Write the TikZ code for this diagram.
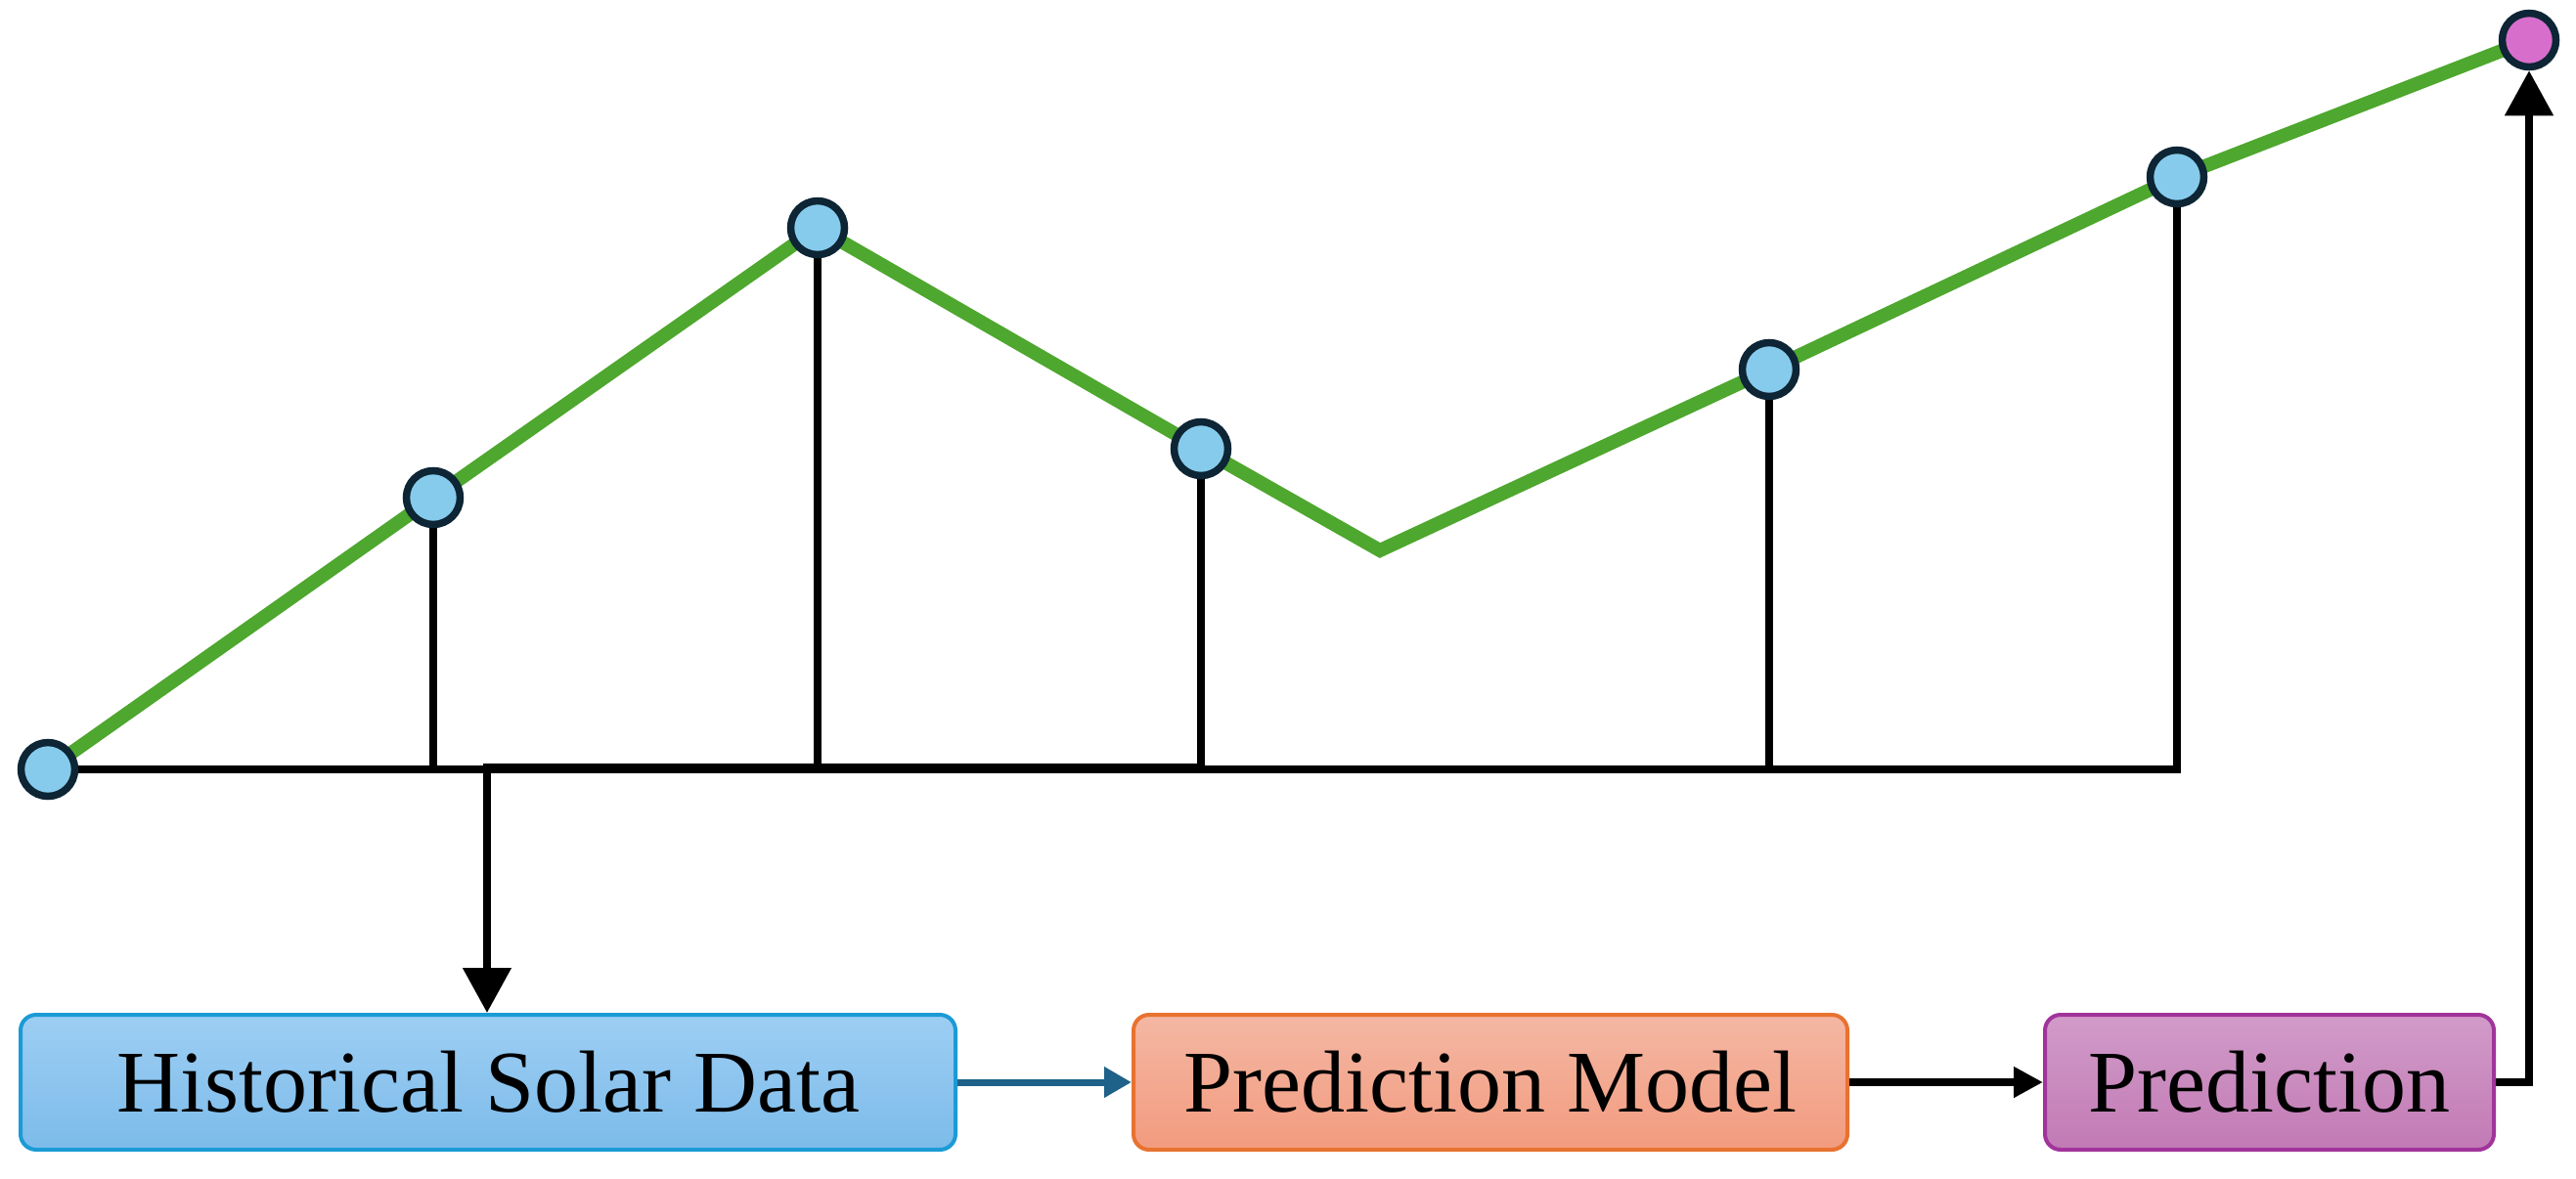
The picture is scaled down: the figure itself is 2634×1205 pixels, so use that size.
\documentclass[tikz,border=0pt]{standalone}
\usepackage{fontspec}
\setmainfont{Liberation Serif}
\usetikzlibrary{arrows.meta,backgrounds}
\definecolor{ptblue}{HTML}{86CBEC}
\definecolor{ptedge}{HTML}{0D2534}
\definecolor{lgreen}{HTML}{4EA72E}
\definecolor{ptpink}{HTML}{D86ECC}
\definecolor{histtop}{HTML}{9DCEF3}
\definecolor{histbot}{HTML}{7CBBEA}
\definecolor{histedge}{HTML}{1B9BD5}
\definecolor{modtop}{HTML}{F4B7A3}
\definecolor{modbot}{HTML}{F29B7F}
\definecolor{modedge}{HTML}{E8722F}
\definecolor{predtop}{HTML}{D19BC9}
\definecolor{predbot}{HTML}{C27AB4}
\definecolor{prededge}{HTML}{A1349B}
\definecolor{arrblue}{HTML}{1E6189}
\begin{document}
\begin{tikzpicture}[x=1pt,y=-1pt,
  pt/.style={circle, draw=ptedge, line width=7.5, fill=ptblue, minimum size=55, inner sep=0},
  predpt/.style={pt, fill=ptpink},
  box/.style={rounded corners=16, line width=4, minimum height=138, inner sep=0,
    font=\fontsize{90}{100}\selectfont},
  curve/.style={line width=14, color=lgreen, line join=miter},
  stem/.style={line width=8.5, black},
  bigarrow/.style={line width=8, black, -{Triangle[length=46,width=48]}},
  smallblue/.style={line width=7, arrblue, -{Triangle[length=28,width=30]}},
  smallblack/.style={line width=8, black, -{Triangle[length=30,width=30]}}]
\useasboundingbox (0,0) rectangle (2634,1205);

% data points
\node[pt] (p0) at (49,787) {};
\node[pt] (p1) at (443,509) {};
\node[pt] (p2) at (836,233) {};
\node[pt] (p3) at (1228,459) {};
\coordinate (k) at (1411,563);
\node[pt] (p4) at (1809,378) {};
\node[pt] (p5) at (2226,181) {};
\node[predpt] (p6) at (2586,41) {};

% pipeline boxes
\node[box, draw=histedge, top color=histtop, bottom color=histbot, minimum width=956] (hist) at (499,1107) {Historical Solar Data};
\node[box, draw=modedge, top color=modtop, bottom color=modbot, minimum width=730] (model) at (1524,1107) {Prediction Model};
\node[box, draw=prededge, top color=predtop, bottom color=predbot, minimum width=459] (pred) at (2320.5,1107) {Prediction};

\coordinate (fr) at (1228,785);
\coordinate (fl) at (498,785);

\begin{pgfonlayer}{background}
  \draw[curve] (p0.center) -- (p1.center) -- (p2.center) -- (p3.center) -- (k) -- (p4.center) -- (p5.center) -- (p6.center);
  \draw[stem] (p0.center) -- (p5.center |- p0.center) -- (p5.center);
  \foreach \p in {p1,p2,p3,p4} \draw[stem] (\p.center) -- (\p.center |- p0.center);
\end{pgfonlayer}

\draw[bigarrow] (fr) -- (fl) -- (fl |- hist.north);
\draw[smallblue] (hist.east) -- (model.west);
\draw[smallblack] (model.east) -- (pred.west);
\draw[bigarrow] (pred.east) -| (p6.south);
\end{tikzpicture}
\end{document}
